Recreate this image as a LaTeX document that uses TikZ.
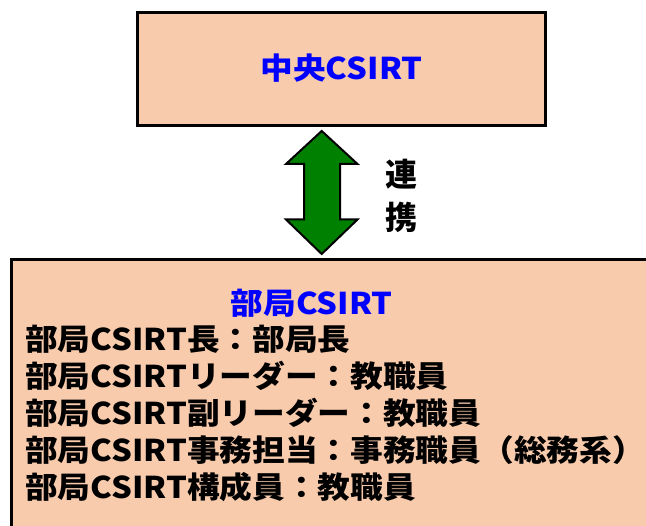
\documentclass[tikz,border=0pt]{standalone}
\usepackage{fontspec}
\setmainfont{Noto Sans CJK JP}
\newfontfamily\widecjk{Noto Sans CJK JP}[FakeStretch=1.09]
\definecolor{peach}{HTML}{F8CBAD}
\definecolor{arrowgreen}{HTML}{008000}
\tikzset{
  box/.style={draw=black, line width=3pt, fill=peach},
  ttl/.style={anchor=base, text=blue, font=\widecjk\fontsize{30}{34}\selectfont\bfseries, inner sep=0pt},
  item/.style={anchor=base west, font=\widecjk\fontsize{30}{34}\selectfont\bfseries, inner sep=0pt},
  rel/.style={anchor=base, font=\fontsize{32}{36}\selectfont\bfseries, inner sep=0pt},
}
\begin{document}
\begin{tikzpicture}[x=1pt,y=-1pt]
\useasboundingbox (0,0) rectangle (646,526);
\fill[white] (0,0) rectangle (646,526);
% top box
\draw[box] (137,13) rectangle (545,126);
\node[ttl] (top) at (341.5,80) {中央CSIRT};
% double arrow
\draw[fill=arrowgreen, draw=black, line width=2pt, line join=miter]
  (321.7,131) -- (357.5,164) -- (340,164) -- (340,219.5) -- (357.5,219.5)
  -- (321.7,254) -- (286,219.5) -- (304,219.5) -- (304,164) -- (286,164) -- cycle;
\node[rel] (r1) at (401,187) {連};
\node[rel] (r2) at (401,229.5) {携};
% bottom box
\draw[box] (11.5,260) rectangle (680,560);
\node[ttl] (bt) at (311.7,315) {部局CSIRT};
\node[item] (l1) at (25,351) {部局CSIRT長：部局長};
\node[item] (l2) at (25,387.9) {部局CSIRTリーダー：教職員};
\node[item] (l3) at (25,424.8) {部局CSIRT副リーダー：教職員};
\node[item] (l4) at (25,461.7) {部局CSIRT事務担当：事務職員（総務系）};
\node[item] (l5) at (25,498.6) {部局CSIRT構成員：教職員};
\end{tikzpicture}
\end{document}
